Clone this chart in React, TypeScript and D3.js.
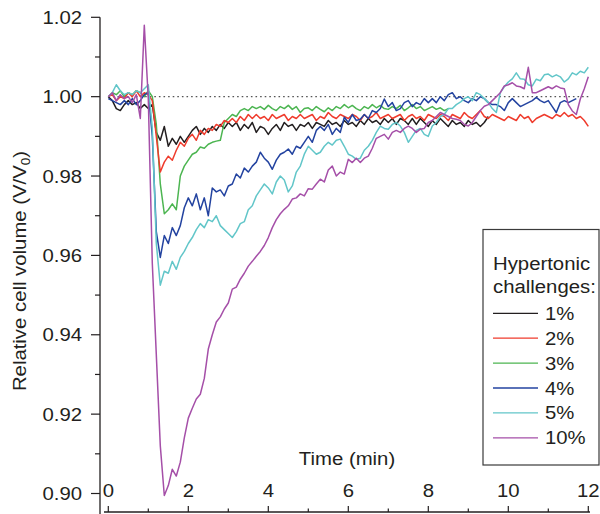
import React from "react";
import * as d3 from "d3";

// sampling step of every recorded series (minutes)
const STEP = 0.1;

const seriesLabels = ["1%", "2%", "3%", "4%", "5%", "10%"];
const seriesColors = ["#231f20", "#ef3b2c", "#4cb551", "#2343a0", "#62c6c9", "#a54fa8"];

const black1 = [
  1.000, 0.999, 0.997, 0.9965, 0.998, 0.999, 0.998, 0.9985, 0.997, 0.998, 0.997,
  0.998, 0.991, 0.989, 0.9925, 0.9875, 0.9895, 0.988, 0.990, 0.9885, 0.990,
  0.9915, 0.9925, 0.9905, 0.992, 0.991, 0.9925, 0.9915, 0.993, 0.992, 0.9935,
  0.9925, 0.9935, 0.9915, 0.993, 0.992, 0.9935, 0.991, 0.9925, 0.992, 0.9905,
  0.992, 0.993, 0.9915, 0.9935, 0.9925, 0.993, 0.9915, 0.993, 0.9925, 0.9935,
  0.992, 0.9935, 0.993, 0.9925, 0.994, 0.993, 0.9935, 0.9925, 0.994, 0.993,
  0.9935, 0.9925, 0.994, 0.993, 0.9945, 0.9935, 0.994, 0.993, 0.9945, 0.9935,
  0.9945, 0.993, 0.9945, 0.994, 0.993, 0.9945, 0.993, 0.9945, 0.9935, 0.9925,
  0.994, 0.993, 0.9945, 0.9935, 0.9925, 0.994, 0.993, 0.9935, 0.9925, 0.994,
  0.993, 0.9935, 0.9925, 0.9935, 0.995,
];

const red2 = [
  1.000, 1.0005, 0.999, 1.000, 0.9995, 1.001, 1.000, 1.0015, 1.000, 1.001, 1.0005,
  0.999, 0.990, 0.981, 0.9835, 0.985, 0.984, 0.9865, 0.9885, 0.9875, 0.9895,
  0.9905, 0.989, 0.9915, 0.9905, 0.992, 0.9915, 0.993, 0.9925, 0.994, 0.9935,
  0.9945, 0.9935, 0.995, 0.994, 0.9955, 0.9945, 0.9955, 0.9945, 0.995, 0.994,
  0.9955, 0.9945, 0.995, 0.9955, 0.994, 0.995, 0.9945, 0.9955, 0.9945, 0.995,
  0.9955, 0.994, 0.995, 0.9945, 0.996, 0.995, 0.9945, 0.9955, 0.995, 0.9945,
  0.9955, 0.995, 0.994, 0.9955, 0.9945, 0.995, 0.996, 0.9945, 0.995, 0.9955,
  0.9945, 0.995, 0.9955, 0.994, 0.995, 0.9955, 0.9945, 0.995, 0.994, 0.9955,
  0.995, 0.9945, 0.9955, 0.995, 0.994, 0.9955, 0.995, 0.9945, 0.996, 0.995,
  0.9945, 0.9955, 0.9965, 0.995, 0.9945, 0.9955, 0.995, 0.9945, 0.994, 0.995,
  0.9945, 0.994, 0.9955, 0.9945, 0.995, 0.9935, 0.9945, 0.995, 0.9955, 0.995,
  0.9945, 0.9955, 0.995, 0.996, 0.995, 0.9955, 0.9945, 0.995, 0.994, 0.9925,
];

const green3 = [
  1.000, 1.001, 1.0005, 1.0015, 1.000, 1.001, 1.0005, 1.0015, 1.001, 1.000, 1.0015,
  1.000, 0.993, 0.978, 0.9705, 0.9715, 0.973, 0.9715, 0.980, 0.9825, 0.984,
  0.9855, 0.986, 0.9873, 0.987, 0.988, 0.9885, 0.9888, 0.989, 0.9935, 0.9945,
  0.9955, 0.995, 0.9965, 0.997, 0.9965, 0.9975, 0.997, 0.9975, 0.9968, 0.9978,
  0.997, 0.9965, 0.9975, 0.997, 0.9978, 0.9968, 0.9975, 0.996, 0.997, 0.9972,
  0.9965, 0.9975, 0.9968, 0.9962, 0.9972, 0.9965, 0.9975, 0.997, 0.998, 0.9972,
  0.9978, 0.997, 0.9965, 0.9975, 0.997, 0.998, 0.9972, 0.9978, 0.997, 0.9968,
  0.9975, 0.997, 0.9978, 0.9965, 0.9972, 0.998, 0.997, 0.9975, 0.9965, 0.997,
  0.9975, 0.9968, 0.9972, 0.9965, 0.997,
];

const blue4 = [
  0.9995, 0.999, 0.9985, 0.998, 0.999, 0.998, 0.9995, 0.998, 0.999, 1.0005, 1.001,
  0.990, 0.966, 0.9595, 0.965, 0.963, 0.967, 0.965, 0.9675, 0.972, 0.9745,
  0.9725, 0.9755, 0.9715, 0.9745, 0.970, 0.977, 0.976, 0.9765, 0.975, 0.9775,
  0.978, 0.9805, 0.9795, 0.982, 0.981, 0.9825, 0.9835, 0.986, 0.9845, 0.9835,
  0.9817, 0.984, 0.9855, 0.986, 0.9868, 0.9855, 0.9875, 0.987, 0.9885, 0.990,
  0.9885, 0.9915, 0.9925, 0.9915, 0.993, 0.9905, 0.992, 0.991, 0.9948, 0.9935,
  0.9955, 0.994, 0.9943, 0.9955, 0.9945, 0.9965, 0.996, 0.997, 0.9994, 0.9975,
  0.9985, 0.9965, 0.997, 0.9985, 0.999, 0.9975, 0.9985, 0.998, 0.9995, 0.9985,
  0.9995, 0.9985, 1.000, 0.999, 1.0005, 1.001, 0.9995, 1.000, 0.999, 0.9985,
  0.9995, 0.999, 1.000, 0.9995, 0.9985, 0.998, 0.998, 0.9975, 0.9965, 0.9985,
  0.9995, 0.9985, 0.9975, 0.998, 0.9985, 0.999, 0.9998, 0.999, 0.9985, 0.999,
  0.9975, 0.996, 0.9985, 0.999, 0.9985, 0.999, 0.9995,
];

const cyan5 = [
  1.000, 1.001, 1.003, 1.0015, 1.0005, 1.001, 1.0005, 1.0015, 1.001, 1.002, 1.003,
  0.992, 0.963, 0.9525, 0.956, 0.9555, 0.9585, 0.9565, 0.9595, 0.961, 0.963,
  0.9645, 0.9665, 0.968, 0.967, 0.969, 0.9685, 0.970, 0.9675, 0.9665, 0.9655,
  0.9645, 0.966, 0.968, 0.9685, 0.9715, 0.9725, 0.975, 0.9765, 0.978, 0.977,
  0.9755, 0.9785, 0.980, 0.979, 0.976, 0.9775, 0.981, 0.9825, 0.9855, 0.9875,
  0.9865, 0.9855, 0.986, 0.9875, 0.9885, 0.9878, 0.989, 0.9893, 0.9875, 0.9855,
  0.985, 0.9842, 0.9845, 0.9865, 0.9875, 0.989, 0.991, 0.9926, 0.992, 0.9918,
  0.993, 0.9935, 0.9926, 0.991, 0.9885, 0.990, 0.9915, 0.992, 0.9905, 0.990,
  0.9926, 0.9935, 0.995, 0.9955, 0.997, 0.997, 0.998, 0.9986, 0.9995, 1.000,
  0.999, 1.001, 1.0005, 0.9995, 0.9985, 0.997, 0.996, 1.001, 1.0025, 1.0037,
  1.0045, 1.006, 1.0045, 1.0044, 1.003, 1.0027, 1.0044, 1.004, 1.0055, 1.0057,
  1.005, 1.0055, 1.005, 1.0037, 1.0045, 1.006, 1.0055, 1.0064, 1.006, 1.0074,
];

const magenta10 = [
  1.000, 1.001, 0.999, 1.0005, 0.9995, 1.000, 0.9985, 1.0005, 0.9945, 1.018, 0.9994,
  0.958, 0.935, 0.912, 0.8995, 0.902, 0.9061, 0.9044, 0.9079, 0.914, 0.919,
  0.9215, 0.9238, 0.925, 0.929, 0.9364, 0.940, 0.9432, 0.9445, 0.9465, 0.948,
  0.9515, 0.952, 0.954, 0.9555, 0.9573, 0.9585, 0.9598, 0.961, 0.9625, 0.9645,
  0.967, 0.969, 0.9705, 0.9716, 0.9725, 0.9742, 0.9745, 0.9755, 0.975, 0.9768,
  0.9767, 0.978, 0.9792, 0.9785, 0.9815, 0.9825, 0.980, 0.981, 0.9805, 0.9842,
  0.9834, 0.9845, 0.9834, 0.9845, 0.985, 0.987, 0.9895, 0.990, 0.9905, 0.9893,
  0.991, 0.9915, 0.991, 0.992, 0.9926, 0.992, 0.991, 0.9918, 0.992, 0.9935,
  0.994, 0.995, 0.996, 0.9955, 0.995, 0.9945, 0.9943, 0.994, 0.993, 0.9926,
  0.9935, 0.995, 0.9965, 0.9976, 0.998, 0.999, 1.000, 1.001, 1.0027, 1.003,
  1.0035, 1.0027, 1.0025, 1.002, 1.0074, 1.001, 1.001, 1.0015, 1.002, 1.0025,
  1.002, 1.0027, 1.0022, 1.002, 0.998, 0.9964, 0.9955, 0.9994, 1.002, 1.005,
];

const seriesValues = [black1, red2, green3, blue4, cyan5, magenta10];
// drawing order (bottom to top)
const drawOrder = [0, 2, 1, 3, 4, 5];

const xMajorTicks = [0, 2, 4, 6, 8, 10, 12];
const xMinorTicks = [1, 3, 5, 7, 9, 11];
const yMajorTicks = [0.9, 0.92, 0.94, 0.96, 0.98, 1.0, 1.02];
const yMajorLabels = ["0.90", "0.92", "0.94", "0.96", "0.98", "1.00", "1.02"];
const yMinorTicks = [0.91, 0.93, 0.95, 0.97, 0.99, 1.01];

const referenceLevel = 1.0;

const FONT = "'Liberation Sans', Arial, Helvetica, sans-serif";
const FS = 18;
const SX = 1.13;
const INK = "#231f20";

function T(props: { x: number; y: number; anchor?: string; children: any }) {
  const { x, y, anchor = "start", children } = props;
  return (
    <text
      transform={`translate(${x},${y}) scale(${SX},1)`}
      textAnchor={anchor as any}
      fontSize={FS}
      fontFamily={FONT}
      fill={INK}
    >
      {children}
    </text>
  );
}

export default function App() {
  const x = d3.scaleLinear().domain([0, 12]).range([108.3, 588.3]);
  const y = d3.scaleLinear().domain([0.9, 1.02]).range([493.5, 17.3]);

  const line = d3
    .line<number>()
    .x((_, i) => x(i * STEP))
    .y((d) => y(d));

  const axisX = 100;
  const axisY = 512;

  const legendX = 483;
  const legendTop = 229.5;
  const legendRowY0 = 313.3;
  const legendRowGap = 24.9;

  return (
    <svg
      width={600}
      height={514}
      style={{ position: "absolute", left: 0, top: 0, background: "#fff" }}
    >
      <rect x={0} y={0} width={600} height={514} fill="#fff" />

      {/* reference dotted line */}
      <line
        x1={x(0)}
        x2={x(12)}
        y1={y(referenceLevel)}
        y2={y(referenceLevel)}
        stroke="#555"
        strokeWidth={1.2}
        strokeDasharray="1.6,3"
      />

      {/* series */}
      {drawOrder.map((k) => (
        <path
          key={k}
          d={line(seriesValues[k]) || ""}
          fill="none"
          stroke={seriesColors[k]}
          strokeWidth={1.5}
          strokeLinejoin="round"
        />
      ))}

      {/* Y axis */}
      <line x1={axisX} x2={axisX} y1={y(1.02)} y2={514} stroke={INK} strokeWidth={1.3} />
      {yMajorTicks.map((v) => (
        <line key={"ym" + v} x1={axisX - 9} x2={axisX} y1={y(v)} y2={y(v)} stroke={INK} strokeWidth={1.2} />
      ))}
      {yMinorTicks.map((v) => (
        <line key={"yn" + v} x1={axisX - 5} x2={axisX} y1={y(v)} y2={y(v)} stroke={INK} strokeWidth={1.2} />
      ))}
      {yMajorTicks.map((v, i) => (
        <T key={"yl" + v} x={82} y={y(v) + 6.5} anchor="end">
          {yMajorLabels[i]}
        </T>
      ))}

      {/* X axis */}
      <line x1={104} x2={590} y1={axisY} y2={axisY} stroke={INK} strokeWidth={1.3} />
      {xMajorTicks.map((t) => (
        <line key={"xm" + t} x1={x(t)} x2={x(t)} y1={axisY - 6} y2={axisY} stroke={INK} strokeWidth={1.2} />
      ))}
      {xMinorTicks.map((t) => (
        <line key={"xn" + t} x1={x(t)} x2={x(t)} y1={axisY - 3.5} y2={axisY} stroke={INK} strokeWidth={1.2} />
      ))}
      {xMajorTicks.map((t) => (
        <T key={"xl" + t} x={x(t)} y={497} anchor="middle">
          {String(t)}
        </T>
      ))}

      {/* axis titles */}
      <T x={347} y={465} anchor="middle">
        Time (min)
      </T>
      <text
        transform={`translate(26,271) rotate(-90) scale(${SX},1)`}
        textAnchor="middle"
        fontSize={FS}
        fontFamily={FONT}
        fill={INK}
      >
        Relative cell volume (V/V
        <tspan fontSize={12} dy={4}>0</tspan>
        <tspan dy={-4}>)</tspan>
      </text>

      {/* legend */}
      <rect
        x={legendX}
        y={legendTop}
        width={116}
        height={235.5}
        fill="#fff"
        stroke="#3a3a3a"
        strokeWidth={1.2}
      />
      <T x={493} y={270}>Hypertonic</T>
      <T x={493} y={293}>challenges:</T>
      {seriesLabels.map((lab, i) => {
        const yy = legendRowY0 + i * legendRowGap;
        return (
          <g key={lab}>
            <line x1={493} x2={538} y1={yy} y2={yy} stroke={seriesColors[i]} strokeWidth={1.3} />
            <T x={545} y={yy + 6.5}>{lab}</T>
          </g>
        );
      })}
    </svg>
  );
}
